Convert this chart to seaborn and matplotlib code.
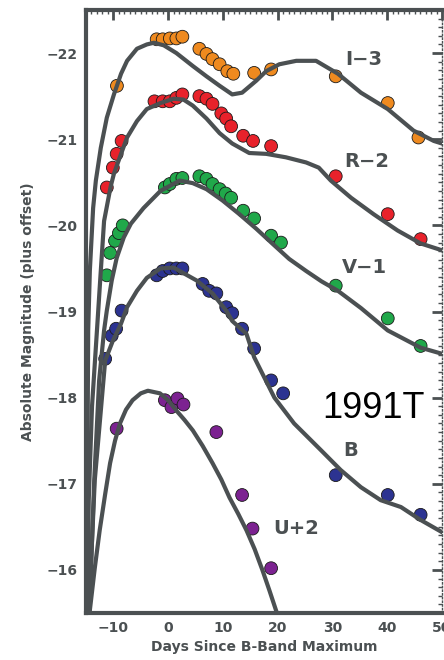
"""
Light curves of SN 1991T in UBVRI with template fits,
offset so the bands stack. Saves out.png.
"""
import pandas as pd
import seaborn as sns
import matplotlib.pyplot as plt
from matplotlib.ticker import MultipleLocator


GRAY = "#4b5052"
BANDS = ["I", "R", "V", "B", "U"]
COLORS = {"I": "#ef8a1f", "R": "#e8222b", "V": "#20a84a",
          "B": "#2c3391", "U": "#7c2291"}
LABELS = ["I-3", "R-2", "V-1", "B", "U+2"]
LABEL_DAY = [35.8, 36.3, 35.9, 33.4, 23.4]
LABEL_MAG = [-21.93, -20.74, -19.51, -17.39, -16.48]

# observed points (days since B max, absolute mag + offset)
I_DAY = [-9.35, -2.1, -1.0, 0.3, 1.5, 2.6, 5.7, 7.0, 8.1, 9.4, 10.8,
         11.9, 15.7, 18.8, 30.6, 40.1, 45.7]
I_MAG = [-21.62, -22.16, -22.16, -22.17, -22.17, -22.19, -22.05, -21.99,
         -21.93, -21.87, -21.79, -21.76, -21.77, -21.81, -21.73, -21.42,
         -21.02]
R_DAY = [-11.2, -10.1, -9.4, -8.5, -2.5, -1.0, 0.3, 1.5, 2.6, 5.7, 7.0,
         8.1, 9.7, 10.6, 11.5, 13.7, 15.5, 18.8, 30.6, 40.1, 46.1]
R_MAG = [-20.44, -20.67, -20.83, -20.98, -21.44, -21.44, -21.44, -21.48,
         -21.52, -21.50, -21.47, -21.41, -21.30, -21.24, -21.15, -21.04,
         -20.98, -20.92, -20.57, -20.13, -19.84]
V_DAY = [-11.2, -10.6, -9.7, -9.0, -8.3, -0.6, 0.3, 1.5, 2.6, 5.7, 7.0,
         8.1, 9.4, 10.5, 11.5, 13.7, 15.7, 18.8, 20.6, 30.6, 40.1, 46.1]
V_MAG = [-19.42, -19.68, -19.82, -19.91, -20.00, -20.44, -20.48, -20.54,
         -20.55, -20.57, -20.54, -20.48, -20.42, -20.37, -20.32, -20.17,
         -20.08, -19.88, -19.80, -19.30, -18.92, -18.60]
B_DAY = [-11.5, -10.3, -9.5, -8.5, -2.1, -1.0, 0.3, 1.5, 2.6, 6.3, 7.5,
         8.8, 10.6, 11.7, 13.5, 15.7, 18.8, 21.0, 30.6, 40.1, 46.1]
B_MAG = [-18.45, -18.72, -18.80, -19.01, -19.42, -19.47, -19.50, -19.50,
         -19.50, -19.32, -19.24, -19.21, -19.05, -18.98, -18.80, -18.57,
         -18.20, -18.05, -17.10, -16.87, -16.64]
U_DAY = [-9.4, -0.6, 0.6, 1.7, 2.8, 8.8, 13.5, 15.4, 18.8]
U_MAG = [-17.64, -17.97, -17.89, -17.99, -17.92, -17.60, -16.87, -16.48,
         -16.02]

# template curves
I_CURVE_DAY = [-14.9, -14.6, -14.3, -13.7, -13.2, -12.3, -11.2, -9.9,
               -8.6, -7.5, -5.7, -3.9, -2.6, -0.8, 1.5, 4.5, 7.0, 9.4,
               11.7, 13.5, 16.1, 17.9, 20.3, 23.4, 27.0, 31.0, 35.2, 40.1,
               44.8, 48.5, 50.5]
I_CURVE_MAG = [-15.4, -18.78, -19.47, -20.20, -20.52, -20.90, -21.25,
               -21.52, -21.76, -21.91, -22.05, -22.10, -22.12, -22.09,
               -22.00, -21.85, -21.73, -21.62, -21.52, -21.54, -21.68,
               -21.79, -21.87, -21.91, -21.91, -21.76, -21.54, -21.35,
               -21.10, -20.98, -20.94]
R_CURVE_DAY = [-14.8, -14.5, -13.9, -13.0, -12.3, -11.7, -10.5, -9.9,
               -8.6, -7.5, -5.7, -3.9, -1.4, 1.0, 2.8, 4.5, 7.0, 9.4,
               11.7, 14.8, 17.9, 21.5, 25.2, 27.5, 29.7, 33.4, 37.5, 41.9,
               46.1, 50.5]
R_CURVE_MAG = [-15.4, -16.81, -17.9, -18.78, -19.47, -20.05, -20.45,
               -20.60, -20.83, -21.02, -21.21, -21.35, -21.42, -21.47,
               -21.46, -21.39, -21.24, -21.07, -20.95, -20.84, -20.83,
               -20.79, -20.73, -20.67, -20.52, -20.32, -20.13, -19.94,
               -19.79, -19.70]
V_CURVE_DAY = [-14.5, -14.3, -13.5, -12.6, -11.7, -11.2, -10.3, -9.4,
               -8.1, -6.8, -4.5, -1.4, 2.1, 4.5, 7.0, 9.9, 13.0, 16.1,
               19.0, 22.1, 25.2, 28.0, 31.0, 35.2, 40.1, 46.1, 50.5]
V_CURVE_MAG = [-15.4, -15.65, -17.04, -18.20, -18.78, -19.01, -19.36,
               -19.62, -19.86, -20.02, -20.20, -20.40, -20.52, -20.49,
               -20.42, -20.29, -20.13, -19.96, -19.79, -19.61, -19.47,
               -19.35, -19.24, -19.04, -18.78, -18.58, -18.50]
B_CURVE_DAY = [-14.5, -14.3, -13.4, -11.5, -10.1, -8.6, -7.5, -5.7, -3.9,
               -1.4, 1.0, 2.1, 5.2, 8.1, 10.6, 11.7, 14.3, 15.7, 19.4,
               23.0, 27.9, 31.5, 35.2, 38.8, 42.5, 46.1, 50.5]
B_CURVE_MAG = [-15.4, -15.77, -17.04, -18.43, -18.66, -18.86, -19.05,
               -19.24, -19.39, -19.50, -19.51, -19.47, -19.36, -19.21,
               -19.01, -18.89, -18.74, -18.47, -18.00, -17.70, -17.39,
               -17.16, -16.96, -16.81, -16.73, -16.58, -16.42]
U_CURVE_DAY = [-14.6, -14.3, -13.4, -12.5, -11.5, -10.6, -9.7, -8.8,
               -7.7, -6.5, -5.0, -3.7, -1.5, 0.0, 1.5, 3.0, 4.5, 6.3, 8.1,
               9.7, 11.2, 12.8, 14.3, 15.8, 17.2, 18.5, 19.7, 20.3]
U_CURVE_MAG = [-15.2, -15.53, -16.02, -16.46, -16.88, -17.24, -17.50,
               -17.70, -17.86, -17.97, -18.05, -18.08, -18.05, -17.97,
               -17.85, -17.74, -17.62, -17.44, -17.24, -17.05, -16.84,
               -16.65, -16.46, -16.24, -16.00, -15.76, -15.53, -15.42]


def make_frame(days, mags):
    frames = []
    for band, d, m in zip(BANDS, days, mags):
        frames.append(pd.DataFrame({"day": d, "mag": m, "band": band}))
    return pd.concat(frames, ignore_index=True)


def main():
    sns.set_style("white")
    plt.rcParams["font.family"] = ["DejaVu Sans"]

    points = make_frame([I_DAY, R_DAY, V_DAY, B_DAY, U_DAY],
                        [I_MAG, R_MAG, V_MAG, B_MAG, U_MAG])
    curves = make_frame([I_CURVE_DAY, R_CURVE_DAY, V_CURVE_DAY,
                         B_CURVE_DAY, U_CURVE_DAY],
                        [I_CURVE_MAG, R_CURVE_MAG, V_CURVE_MAG,
                         B_CURVE_MAG, U_CURVE_MAG])

    fig = plt.figure(figsize=(4.44, 6.6), dpi=100)
    ax = fig.add_axes([86 / 444, 1 - 613 / 660, 356 / 444, 603 / 660])

    sns.scatterplot(data=points, x="day", y="mag", hue="band",
                    palette=COLORS, s=85, edgecolor="#1a1a1a",
                    linewidth=0.6, legend=False, ax=ax, zorder=2)
    sns.lineplot(data=curves, x="day", y="mag", units="band",
                 estimator=None, sort=False, color=GRAY, lw=3.0,
                 ax=ax, zorder=3)

    for text, d, m in zip(LABELS, LABEL_DAY, LABEL_MAG):
        ax.text(d, m, text.replace("-", "\u2212"), fontsize=14,
                fontweight="bold", color=GRAY, ha="center", va="center")
    ax.text(37.5, -17.87, "1991T", fontsize=26, color="black",
            family="Liberation Sans", ha="center", va="center")

    ax.set_xlim(-15, 50)
    ax.set_ylim(-15.5, -22.5)
    ax.xaxis.set_major_locator(MultipleLocator(10))
    ax.xaxis.set_minor_locator(MultipleLocator(1))
    ax.yaxis.set_major_locator(MultipleLocator(1))
    ax.yaxis.set_minor_locator(MultipleLocator(0.1))
    ax.tick_params(which="both", direction="in", top=True, right=True,
                   color=GRAY, labelcolor=GRAY)
    ax.tick_params(which="major", length=7, width=2, labelsize=10, pad=6)
    ax.tick_params(which="minor", length=3, width=1)
    for lab in ax.get_xticklabels() + ax.get_yticklabels():
        lab.set_fontweight("bold")

    for side in ["left", "bottom", "top"]:
        ax.spines[side].set_color(GRAY)
        ax.spines[side].set_linewidth(3)
    ax.spines["right"].set_color(GRAY)
    ax.spines["right"].set_linewidth(1)
    ax.spines["right"].set_linestyle(":")

    ax.set_xlabel("Days Since B-Band Maximum", fontsize=10,
                  fontweight="bold", color=GRAY, labelpad=3)
    ax.set_ylabel("Absolute Magnitude (plus offset)", fontsize=10,
                  fontweight="bold", color=GRAY, labelpad=8)

    fig.savefig("out.png", dpi=100)


if __name__ == "__main__":
    main()
